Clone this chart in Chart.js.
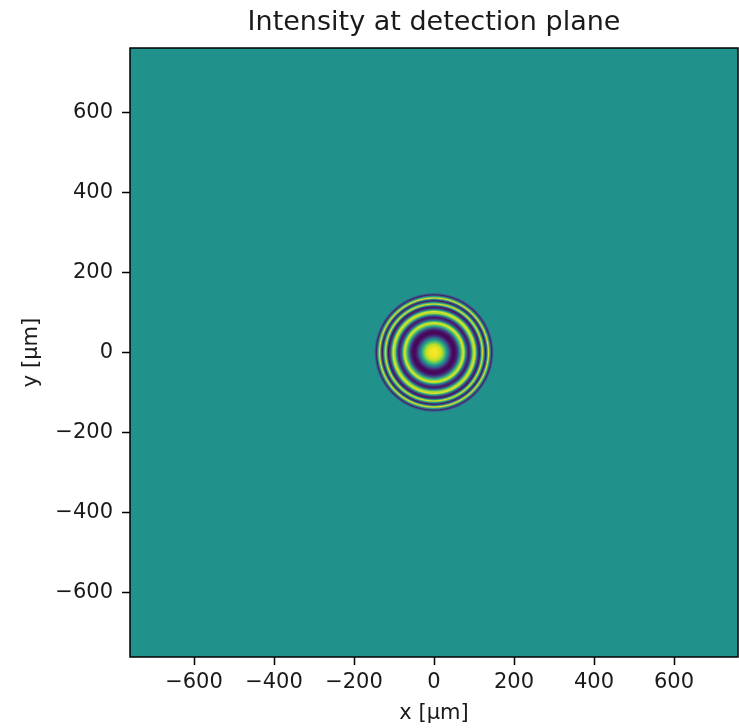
<!DOCTYPE html>
<html>
<head>
<meta charset="utf-8">
<script src="https://cdn.jsdelivr.net/npm/chart.js@4/dist/chart.umd.min.js"></script>
<style>
  html, body { margin: 0; padding: 0; background: #fff; }
  #wrap { width: 739px; height: 728px; position: relative; }
</style>
</head>
<body>
<div id="wrap"><canvas id="intensityChart"></canvas></div>
<script>
// axes
const chartTitle = "Intensity at detection plane";
const xLabel = "x [\u00b5m]";
const yLabel = "y [\u00b5m]";
const extent = 760;
const xTicks = [-600, -400, -200, 0, 200, 400, 600];
const yTicks = [-600, -400, -200, 0, 200, 400, 600];

// radial intensity profile (radius in µm, colour level 0..1)
const ringRadius = [0, 10, 20, 27.5, 32.5, 37.5, 42.5, 47.5, 52.5, 57.5, 62.5, 67.5, 72.5, 75, 77.5, 80, 84, 87.5, 90, 94, 97.5, 102.5, 106, 110, 114, 117.5, 121, 125, 129, 132.5, 136, 140, 144, 147.5, 150];
const ringIntensity = [1.0, 0.98, 0.9, 0.7, 0.5, 0.3, 0.1, 0.02, 0.02, 0.1, 0.35, 0.7, 0.95, 0.9, 0.7, 0.4, 0.15, 0.05, 0.15, 0.5, 0.85, 0.95, 0.6, 0.15, 0.05, 0.5, 0.95, 0.55, 0.05, 0.4, 0.95, 0.55, 0.08, 0.35, 0.5];
const backgroundIntensity = 0.5;

// viridis
const viridisStops = ["#440154", "#482475", "#414487", "#355f8d", "#2a788e", "#21918c", "#22a884", "#44bf70", "#7ad151", "#bddf26", "#fde725"];

function hexRgb(h) {
  return [parseInt(h.slice(1, 3), 16), parseInt(h.slice(3, 5), 16), parseInt(h.slice(5, 7), 16)];
}

function viridis(v) {
  v = Math.max(0, Math.min(1, v));
  const f = v * (viridisStops.length - 1);
  const i = Math.min(Math.floor(f), viridisStops.length - 2);
  const t = f - i;
  const a = hexRgb(viridisStops[i]), b = hexRgb(viridisStops[i + 1]);
  const c = a.map((x, k) => Math.round(x + (b[k] - x) * t));
  return "rgb(" + c.join(",") + ")";
}

const fmt = (v) => v < 0 ? "\u2212" + Math.abs(v) : String(v);

const imagePlugin = {
  id: "intensityImage",
  beforeDatasetsDraw(chart) {
    const { ctx, chartArea: a, scales: { x, y } } = chart;
    const pts = chart.data.datasets[0].data;
    ctx.save();
    ctx.beginPath();
    ctx.rect(a.left, a.top, a.right - a.left, a.bottom - a.top);
    ctx.clip();
    ctx.fillStyle = viridis(backgroundIntensity);
    ctx.fillRect(a.left, a.top, a.right - a.left, a.bottom - a.top);

    const cx = x.getPixelForValue(0);
    const cy = y.getPixelForValue(0);
    const rMax = pts[pts.length - 1].x;
    const R = x.getPixelForValue(rMax) - cx;
    const g = ctx.createRadialGradient(cx, cy, 0, cx, cy, R);
    pts.forEach(p => g.addColorStop(p.x / rMax, viridis(p.v)));
    ctx.fillStyle = g;
    ctx.beginPath();
    ctx.arc(cx, cy, R, 0, Math.PI * 2);
    ctx.fill();
    ctx.restore();
  },
  afterDraw(chart) {
    const { ctx, chartArea: a } = chart;
    ctx.save();
    ctx.strokeStyle = "#000";
    ctx.lineWidth = 1.5;
    ctx.strokeRect(a.left, a.top, a.right - a.left, a.bottom - a.top);
    ctx.fillStyle = "#1a1a1a";
    ctx.font = "27px 'DejaVu Sans'";
    ctx.textAlign = "center";
    ctx.textBaseline = "middle";
    ctx.fillText(chartTitle, (a.left + a.right) / 2, 23);
    ctx.restore();
  }
};

const ctx = document.getElementById("intensityChart").getContext("2d");

new Chart(ctx, {
  type: "scatter",
  data: {
    datasets: [{
      data: ringRadius.map((r, i) => ({ x: r, y: 0, v: ringIntensity[i] })),
      pointRadius: 0,
      pointHoverRadius: 0,
      showLine: false
    }]
  },
  plugins: [imagePlugin],
  options: {
    responsive: true,
    maintainAspectRatio: false,
    animation: false,
    events: [],
    layout: { padding: { top: 48, right: 1, left: 0, bottom: 0 } },
    plugins: {
      legend: { display: false },
      tooltip: { enabled: false },
      title: { display: false }
    },
    scales: {
      x: {
        type: "linear",
        min: -extent,
        max: extent,
        afterBuildTicks: (s) => { s.ticks = xTicks.map(v => ({ value: v })); },
        afterFit: (s) => { s.height = 71; },
        border: { display: false },
        grid: {
          drawOnChartArea: false,
          drawTicks: true,
          tickLength: 8,
          tickColor: "#000",
          tickWidth: 1.5
        },
        ticks: {
          color: "#1a1a1a",
          font: { family: "'DejaVu Sans'", size: 21 },
          padding: 5,
          maxRotation: 0,
          autoSkip: false,
          callback: fmt
        },
        title: {
          display: true,
          text: xLabel,
          color: "#1a1a1a",
          font: { family: "'DejaVu Sans'", size: 21 },
          padding: { top: 0, bottom: 2 }
        }
      },
      y: {
        type: "linear",
        min: -extent,
        max: extent,
        afterBuildTicks: (s) => { s.ticks = yTicks.map(v => ({ value: v })); },
        afterFit: (s) => { s.width = 130; },
        border: { display: false },
        grid: {
          drawOnChartArea: false,
          drawTicks: true,
          tickLength: 8,
          tickColor: "#000",
          tickWidth: 1.5
        },
        ticks: {
          color: "#1a1a1a",
          font: { family: "'DejaVu Sans'", size: 21 },
          padding: 9,
          autoSkip: false,
          callback: fmt
        },
        title: {
          display: true,
          text: yLabel,
          color: "#1a1a1a",
          font: { family: "'DejaVu Sans'", size: 21 },
          padding: { top: 19, bottom: 0 }
        }
      }
    }
  }
});
</script>
</body>
</html>
